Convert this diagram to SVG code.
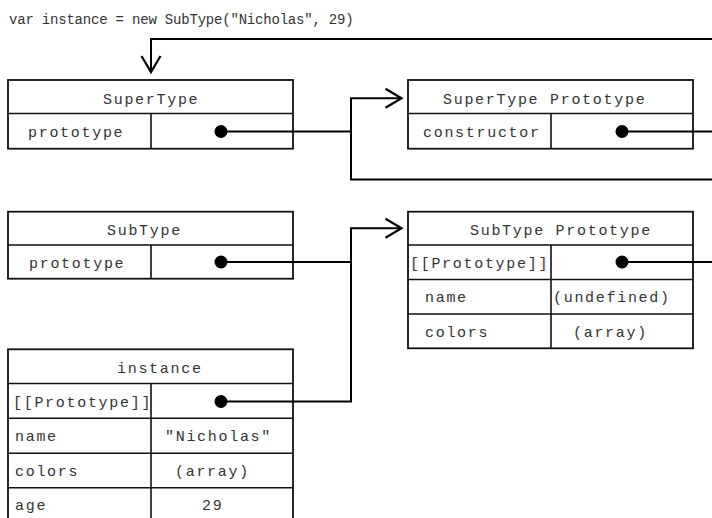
<svg xmlns="http://www.w3.org/2000/svg" width="712" height="518" viewBox="0 0 712 518">
<style>
.box{fill:#fff;stroke:#111;stroke-width:1.8}
.div{stroke:#111;stroke-width:1.6;fill:none}
.t{font-family:"Liberation Mono","DejaVu Sans Mono",monospace;font-size:15px;letter-spacing:1.7px;fill:#333}
.code{font-family:"Liberation Mono","DejaVu Sans Mono",monospace;font-size:14px;letter-spacing:-0.2px;fill:#333}
.c{stroke:#000;stroke-width:2;fill:none}
.dot{fill:#000}
</style>
<defs>
<marker id="arr" markerUnits="userSpaceOnUse" markerWidth="20" markerHeight="22" refX="16" refY="9.5" orient="auto" overflow="visible">
<path d="M0,0 L16,9.5 L0,19" fill="none" stroke="#000" stroke-width="2.2"/>
</marker>
</defs>
<rect width="712" height="518" fill="#fff"/>
<text class="code" x="9" y="24">var instance = new SubType("Nicholas", 29)</text>

<g id="supertype">
<rect class="box" x="8" y="80" width="285" height="68.7"/>
<path class="div" d="M8,113.5 H293 M151,113.5 V148.7"/>
<text class="t" x="103" y="104">SuperType</text>
<text class="t" x="28" y="137">prototype</text>
<circle class="dot" cx="221" cy="131.5" r="6.5"/>
</g>

<g id="supertype-prototype">
<rect class="box" x="408" y="80" width="285" height="68.7"/>
<path class="div" d="M408,113.5 H693 M551,113.5 V148.7"/>
<text class="t" x="443" y="104">SuperType Prototype</text>
<text class="t" x="423" y="137">constructor</text>
<circle class="dot" cx="622" cy="131.5" r="6.5"/>
</g>

<g id="subtype">
<rect class="box" x="8" y="211.7" width="285" height="67"/>
<path class="div" d="M8,245 H293 M151,245 V278.7"/>
<text class="t" x="107" y="235">SubType</text>
<text class="t" x="29" y="268">prototype</text>
<circle class="dot" cx="221" cy="262" r="6.5"/>
</g>

<g id="subtype-prototype">
<rect class="box" x="408" y="211.7" width="285" height="136.6"/>
<path class="div" d="M408,245 H693 M408,279.5 H693 M408,314 H693 M551,245 V348.3"/>
<text class="t" x="470" y="235">SubType Prototype</text>
<text class="t" x="410" y="268">[[Prototype]]</text>
<circle class="dot" cx="622" cy="262" r="6.5"/>
<text class="t" x="425" y="302">name</text>
<text class="t" x="553" y="302">(undefined)</text>
<text class="t" x="425" y="337">colors</text>
<text class="t" x="573" y="337">(array)</text>
</g>

<g id="instance">
<rect class="box" x="8" y="349.3" width="285" height="180"/>
<path class="div" d="M8,383.5 H293 M8,418.3 H293 M8,453.3 H293 M8,487.7 H293 M151,383.5 V530"/>
<text class="t" x="117" y="373">instance</text>
<text class="t" x="13" y="407">[[Prototype]]</text>
<circle class="dot" cx="221" cy="401.5" r="6.5"/>
<text class="t" x="15" y="441">name</text>
<text class="t" x="165" y="441">"Nicholas"</text>
<text class="t" x="15" y="476">colors</text>
<text class="t" x="175" y="476">(array)</text>
<text class="t" x="15" y="510">age</text>
<text class="t" x="202" y="510">29</text>
</g>

<g id="connectors">
<path class="c" d="M622,131.5 H712"/>
<path class="c" d="M712,39 H151 V72" marker-end="url(#arr)"/>
<path class="c" d="M221,131.5 H351"/>
<path class="c" d="M712,179.5 H351 V98.3 H401.5" marker-end="url(#arr)"/>
<path class="c" d="M221,262 H351"/>
<path class="c" d="M221,401.5 H351 V228.3 H401.5" marker-end="url(#arr)"/>
<path class="c" d="M622,262 H712"/>
</g>
</svg>
